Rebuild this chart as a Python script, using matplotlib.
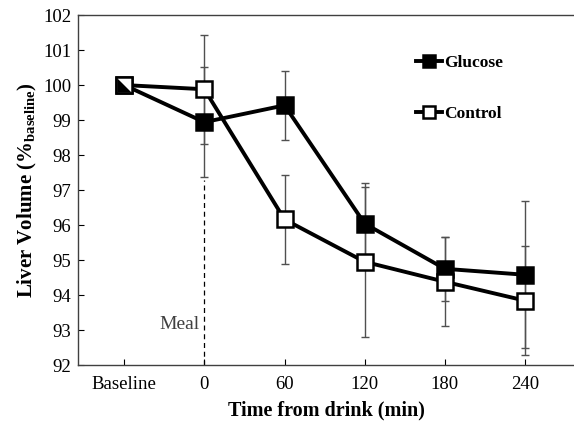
import numpy as np
import matplotlib.pyplot as plt
from matplotlib.path import Path

plt.rcParams['font.family'] = ['Liberation Serif', 'DejaVu Serif']
plt.rcParams['mathtext.fontset'] = 'custom'
plt.rcParams['mathtext.rm'] = 'Liberation Serif'
plt.rcParams['mathtext.bf'] = 'Liberation Serif:bold'

# data
categories = ['Baseline', '0', '60', '120', '180', '240']
glucose = [100.0, 98.94, 99.42, 96.04, 94.75, 94.58]
glucose_err = [0, 1.57, 0.98, 1.17, 0.92, 2.1]
control = [100.0, 99.88, 96.16, 94.95, 94.38, 93.84]
control_err = [0, 1.55, 1.27, 2.15, 1.27, 1.55]
meal_at = 1  # index of "0"

x = np.arange(len(categories))

fig = plt.figure(figsize=(5.74, 4.3), dpi=100)
ax = fig.add_axes([0.136, 0.151, 0.864, 0.814])

ax.errorbar(x[1:], glucose[1:], yerr=glucose_err[1:], fmt='none', ecolor='#505050',
            elinewidth=1, capsize=3, capthick=1, zorder=1)
ax.errorbar(x[1:], control[1:], yerr=control_err[1:], fmt='none', ecolor='#505050',
            elinewidth=1, capsize=3, capthick=1, zorder=1)

ax.plot(x, glucose, color='black', lw=2.8, marker='s', ms=12, mfc='black',
        mec='black', mew=1.8, label='Glucose', zorder=3)
ax.plot(x, control, color='black', lw=2.8, marker='s', ms=12, mfc='white',
        mec='black', mew=1.8, label='Control', zorder=4)

# baseline point shared by both series: half black / half white
tri = Path([(-1, 1), (-1, -1), (1, -1), (-1, 1)])
ax.plot(x[0], glucose[0], marker=tri, ms=10.5, mfc='black', mec='none', ls='none', zorder=5)

# meal marker
ax.plot([meal_at, meal_at], [92, 97.3], color='black', lw=0.9, ls=(0, (4, 3)), zorder=0)
ax.text(meal_at - 0.06, 93.15, 'Meal', ha='right', va='center', fontsize=14, color='#404040')

ax.set_xlim(-0.575, 5.61)
ax.set_ylim(92, 102)
ax.set_yticks(np.arange(92, 103, 1))
ax.set_xticks(x)
ax.set_xticklabels(categories)
ax.tick_params(direction='in', length=4, width=0.8, labelsize=13.5, colors='black')
ax.tick_params(axis='x', pad=8)
ax.tick_params(axis='y', pad=5)
for s in ['left', 'bottom', 'top']:
    ax.spines[s].set_color('#404040')
    ax.spines[s].set_linewidth(1)
ax.spines['right'].set_visible(False)

ax.set_xlabel('Time from drink (min)', fontsize=14.5, fontweight='bold', labelpad=5)
ax.set_ylabel(r'Liver Volume (%$_{\mathbf{baseline}}$)', fontsize=15,
              fontweight='bold', labelpad=3)

ax.legend(loc='upper left', bbox_to_anchor=(0.65, 0.93), frameon=False,
          prop={'weight': 'bold', 'size': 12.5}, handlelength=1.5, handletextpad=0.1,
          labelspacing=2.0, markerscale=0.75)

fig.savefig('out.png', dpi=100)
